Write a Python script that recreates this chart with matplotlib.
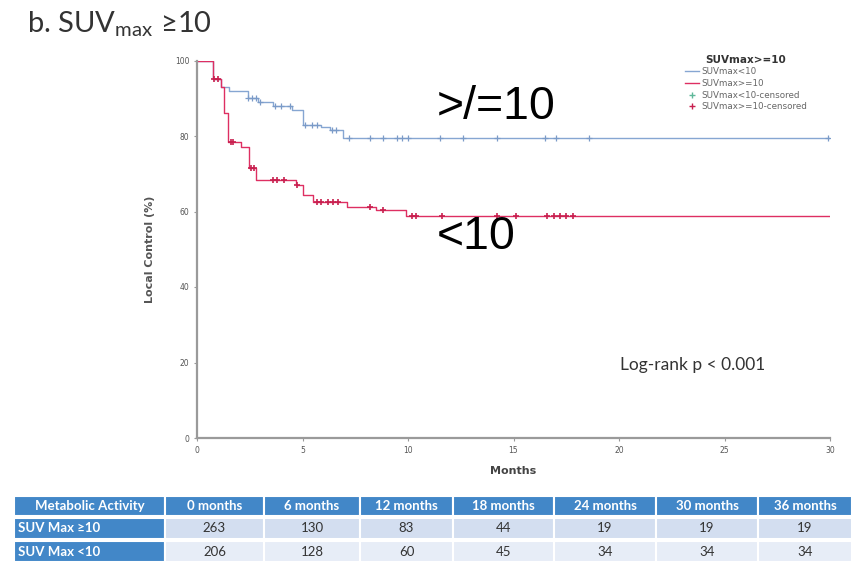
import numpy as np
import matplotlib
matplotlib.use("Agg")
import matplotlib.pyplot as plt
from matplotlib.lines import Line2D
from matplotlib.patches import Rectangle

# Kaplan-Meier step data (months, local control %)
low_times = [0, 0.75, 1.15, 1.5, 2.4, 2.9, 3.6, 4.5, 5.0, 5.9, 6.3, 6.9, 30]
low_surv = [100, 95, 93, 92, 90, 89, 88, 87, 83, 82.4, 81.5, 79.4, 79.4]
high_times = [0, 0.75, 1.15, 1.3, 1.45, 2.1, 2.45, 2.8, 4.7, 5.0, 5.5, 7.1, 8.5, 9.9, 30]
high_surv = [100, 95, 93, 86, 78.5, 77.2, 71.5, 68.3, 67.1, 64.5, 62.4, 61.1, 60.5, 58.7, 58.7]

# censoring times
low_cens = [2.4, 2.6, 2.8, 3.0, 3.7, 4.0, 4.4, 5.1, 5.45, 5.7, 6.4, 6.6, 7.2, 8.2, 8.8,
            9.5, 9.7, 10.0, 11.5, 12.6, 14.2, 16.5, 17.0, 18.6, 29.9]
high_cens = [0.8, 1.0, 1.6, 1.7, 2.55, 2.7, 3.6, 3.8, 4.1, 4.75, 5.7, 5.9, 6.2, 6.45, 6.7,
             8.2, 8.8, 10.2, 10.4, 11.6, 14.2, 15.1, 16.6, 16.9, 17.2, 17.5, 17.8]

x_ticks = [0, 5, 10, 15, 20, 25, 30]
y_ticks = [0, 20, 40, 60, 80, 100]

# numbers-at-risk table
table_header = ["Metabolic Activity", "0 months", "6 months", "12 months", "18 months",
                "24 months", "30 months", "36 months"]
row_labels = ["SUV Max \u226510", "SUV Max <10"]
risk_high = [263, 130, 83, 44, 19, 19, 19]
risk_low = [206, 128, 60, 45, 34, 34, 34]

W, H = 856, 562
fig = plt.figure(figsize=(W / 100, H / 100), dpi=100)
fig.patch.set_facecolor("white")

blue = "#86a6d2"
blue_mark = "#7b9bc8"
red = "#de2f62"
red_mark = "#c8204f"

ax = fig.add_axes([197 / W, 1 - 438 / H, (830 - 197) / W, (438 - 60.5) / H])
ax.step(low_times, low_surv, where="post", color=blue, lw=1.0)
ax.step(high_times, high_surv, where="post", color=red, lw=1.0)


def surv_at(times, surv, t):
    idx = np.searchsorted(times, t, side="right") - 1
    return np.asarray(surv)[idx]


ax.plot(low_cens, surv_at(low_times, low_surv, low_cens), ls="none", marker="+",
        ms=4.5, mew=0.9, color=blue_mark)
ax.plot(high_cens, surv_at(high_times, high_surv, high_cens), ls="none", marker="+",
        ms=4.5, mew=1.2, color=red_mark)

ax.set_xlim(0, 30)
ax.set_ylim(0, 100)
ax.set_xticks(x_ticks)
ax.set_yticks(y_ticks)
ax.tick_params(labelsize=5.5, labelcolor="#555555", length=2, color="#999999", width=0.8)
for s in ["top", "right"]:
    ax.spines[s].set_visible(False)
for s in ["left", "bottom"]:
    ax.spines[s].set_color("#9a9a9a")
    ax.spines[s].set_linewidth(1.6)
ax.set_xlabel("Months", fontsize=8, fontweight="bold", color="#444444", labelpad=8)
ax.set_ylabel("Local Control (%)", fontsize=8, fontweight="bold", color="#555555", labelpad=14)

handles = [
    Line2D([], [], color=blue, lw=1.0),
    Line2D([], [], color=red, lw=1.0),
    Line2D([], [], color="#5fb89a", ls="none", marker="+", ms=5),
    Line2D([], [], color=red_mark, ls="none", marker="+", ms=5),
]
labels = ["SUVmax<10", "SUVmax>=10", "SUVmax<10-censored", "SUVmax>=10-censored"]
leg = fig.legend(handles, labels, title="SUVmax>=10", loc="upper left",
                 bbox_to_anchor=(677 / W, 1 - 47 / H), frameon=False, fontsize=6.3,
                 title_fontproperties={"size": 7.5, "weight": "bold"},
                 handlelength=1.6, handletextpad=0.3, labelspacing=0.3)
for t in leg.get_texts():
    t.set_color("#666666")
leg.get_title().set_color("#333333")

fig.text(27 / W, 1 - 24 / H, "b. SUV$_{\\mathregular{max}}$ \u226510", fontsize=21,
         color="#333333", va="center", ha="left", family=["Lato", "DejaVu Sans"])
fig.text(437 / W, 1 - 107 / H, ">/=10", fontsize=33.5, color="black", va="center",
         ha="left", family="Liberation Sans")
fig.text(437 / W, 1 - 237 / H, "<10", fontsize=33.5, color="black", va="center",
         ha="left", family="Liberation Sans")
fig.text(620 / W, 1 - 365 / H, "Log-rank p < 0.001", fontsize=12.5, color="#333333",
         va="center", ha="left", family="Lato")

# table drawn in pixel coordinates
tax = fig.add_axes([0, 0, 1, 1], zorder=-1)
tax.set_xlim(0, W)
tax.set_ylim(H, 0)
tax.axis("off")
col_edges = [14, 165, 264, 360, 453, 554, 656, 758, 852]
row_edges = [(496, 516), (518, 539), (541, 562)]
head_blue = "#4287c8"
cell_fill = ["#d3def0", "#e7edf7"]

for c in range(len(table_header)):
    x0, x1 = col_edges[c], col_edges[c + 1]
    y0, y1 = row_edges[0]
    tax.add_patch(Rectangle((x0, y0), x1 - x0, y1 - y0, facecolor=head_blue,
                            edgecolor="white", lw=1.5))
    tax.text((x0 + x1) / 2, (y0 + y1) / 2, table_header[c], color="white",
             fontsize=9.5, fontweight="bold", ha="center", va="center", family="Lato")

for r, (lab, vals) in enumerate(zip(row_labels, [risk_high, risk_low])):
    y0, y1 = row_edges[r + 1]
    tax.add_patch(Rectangle((col_edges[0], y0), col_edges[1] - col_edges[0], y1 - y0,
                            facecolor=head_blue, edgecolor="white", lw=1.5))
    tax.text(col_edges[0] + 4, (y0 + y1) / 2, lab, color="white", fontsize=9.5,
             fontweight="bold", ha="left", va="center", family=["Lato", "DejaVu Sans"])
    for c, v in enumerate(vals):
        x0, x1 = col_edges[c + 1], col_edges[c + 2]
        tax.add_patch(Rectangle((x0, y0), x1 - x0, y1 - y0, facecolor=cell_fill[r],
                                edgecolor="white", lw=1.5))
        tax.text((x0 + x1) / 2, (y0 + y1) / 2, str(v), color="#333333", fontsize=9.5,
                 ha="center", va="center", family="Lato")

fig.savefig("out.png", dpi=100, facecolor="white")
